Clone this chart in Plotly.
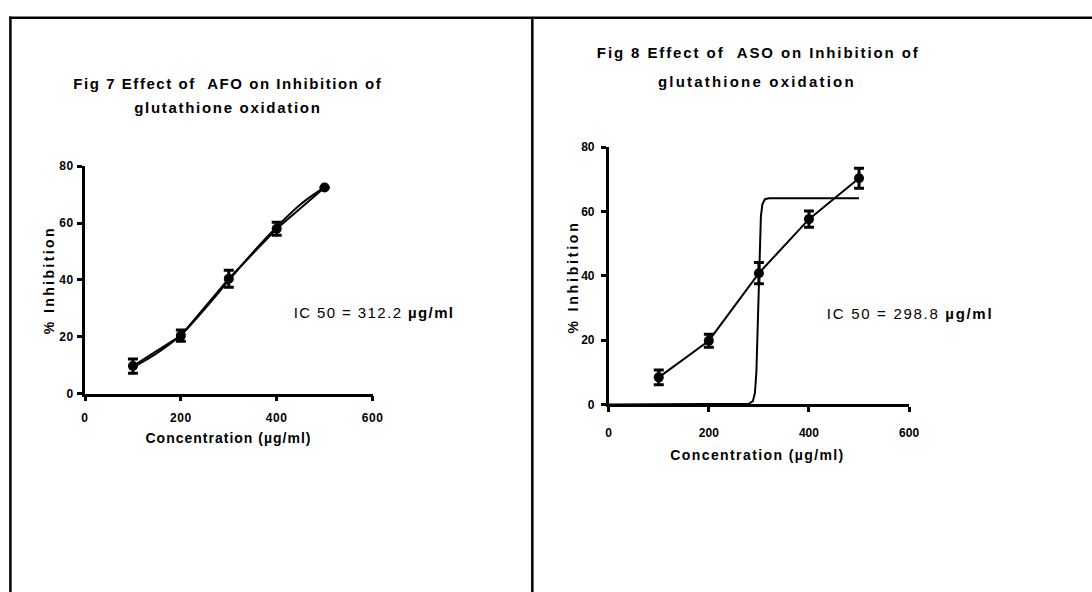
import plotly.graph_objects as go

# ---------------- data ----------------
conc = [100, 200, 300, 400, 500]

afo_mean = [9.7, 20.4, 40.4, 58.0, 72.5]
afo_err = [2.5, 2.0, 3.0, 2.3, 0.0]
afo_fit_x = [100, 150, 200, 250, 300, 350, 400, 450, 500]
afo_fit_y = [9.2, 14.2, 20.6, 29.8, 39.8, 49.6, 58.6, 66.6, 72.6]

aso_mean = [8.4, 19.8, 40.8, 57.6, 70.3]
aso_err = [2.3, 2.0, 3.3, 2.5, 3.1]
aso_fit_x = [0, 100, 200, 280, 288, 292, 295, 297, 298.8, 300.5, 302, 304, 307, 312, 320, 400, 500]
aso_fit_y = [0.0, 0.0, 0.0, 0.2, 1.0, 3.5, 10.0, 20.0, 32.0, 44.0, 52.0, 58.5, 62.2, 63.8, 64.1, 64.1, 64.1]

x_ticks = [0, 200, 400, 600]
y_ticks = [0, 20, 40, 60, 80]

title_left_1 = "Fig 7 Effect of \u00a0AFO on Inhibition of"
title_right_1 = "Fig 8 Effect of \u00a0ASO on Inhibition of"
title_2 = "glutathione oxidation"
ic_left = "IC 50 = 312.2 <b>µg/ml</b>"
ic_right = "IC 50 = 298.8 <b>µg/ml</b>"
x_title = "Concentration (µg/ml)"
y_title = "% Inhibition"

# ---------------- figure ----------------
W, H = 1092, 592
FONT = "Liberation Sans, Arial, sans-serif"


def px(x):
    return x / W


def py(y):
    return 1 - y / H


fig = go.Figure()

# AFO (left)
fig.add_trace(go.Scatter(x=afo_fit_x, y=afo_fit_y, mode="lines", line=dict(color="black", width=2, shape="spline"),
                         xaxis="x", yaxis="y", showlegend=False, hoverinfo="skip"))
fig.add_trace(go.Scatter(x=conc, y=afo_mean, mode="lines+markers",
                         line=dict(color="black", width=2),
                         marker=dict(color="black", size=10),
                         error_y=dict(type="data", array=afo_err, color="black", thickness=3, width=5),
                         xaxis="x", yaxis="y", showlegend=False))

# ASO (right)
fig.add_trace(go.Scatter(x=aso_fit_x, y=aso_fit_y, mode="lines", line=dict(color="black", width=2),
                         xaxis="x2", yaxis="y2", showlegend=False, hoverinfo="skip", cliponaxis=False))
fig.add_trace(go.Scatter(x=conc, y=aso_mean, mode="lines+markers",
                         line=dict(color="black", width=2),
                         marker=dict(color="black", size=10),
                         error_y=dict(type="data", array=aso_err, color="black", thickness=3, width=5),
                         xaxis="x2", yaxis="y2", showlegend=False))

tickfont = dict(family=FONT, size=12, color="black", weight="bold")
axis_common = dict(showline=True, linecolor="black", linewidth=2.5, ticks="outside", ticklen=5,
                   tickwidth=2.5, tickcolor="black", showgrid=False, zeroline=False, tickfont=tickfont)

fig.update_layout(
    width=W, height=H,
    margin=dict(l=0, r=0, t=0, b=0),
    paper_bgcolor="white", plot_bgcolor="white",
    xaxis=dict(domain=[px(83), px(374)], range=[0, 600], tickvals=x_ticks, anchor="y",
               ticklabelstandoff=6, **axis_common),
    yaxis=dict(domain=[py(396), py(163)], range=[0, 80], tickvals=y_ticks, anchor="x",
               ticklabelstandoff=1, **axis_common),
    xaxis2=dict(domain=[px(613), px(917)], range=[0, 600], tickvals=x_ticks, anchor="y2",
                ticklabelstandoff=10, **axis_common),
    yaxis2=dict(domain=[py(407), py(143.5)], range=[0, 80], tickvals=y_ticks, anchor="x2",
                ticklabelstandoff=4, **axis_common),
)

# frame lines (extended past the paper edges so they run to the window edges)
line_style = dict(color="black", width=2.5)
fig.add_shape(type="line", xref="paper", yref="paper", x0=px(6.3), x1=1.05, y0=py(11), y1=py(11), line=line_style)
fig.add_shape(type="line", xref="paper", yref="paper", x0=px(7.5), x1=px(7.5), y0=-0.05, y1=py(9.8), line=line_style)
fig.add_shape(type="line", xref="paper", yref="paper", x0=px(535.7), x1=px(535.7), y0=-0.05, y1=py(11), line=line_style)

title_font = dict(family=FONT, size=15, color="black", weight="bold")
ax_font = dict(family=FONT, size=14, color="black", weight="bold")
ic_font = dict(family=FONT, size=15, color="black")

# (text, x-center, y-center, font, angle, letter spacing)
ann = [
    (title_left_1, 228.5, 78, title_font, 0, 1.55),
    (title_2, 228, 102.6, title_font, 0, 1.7),
    (title_right_1, 764.7, 47, title_font, 0, 1.9),
    (title_2, 763.5, 76.6, title_font, 0, 2.2),
    (x_title, 228, 441, ax_font, 0, 1.0),
    (x_title, 764, 458.5, ax_font, 0, 1.4),
    (y_title, 47, 280, ax_font, -90, 2.4),
    (y_title, 577, 277, ax_font, -90, 2.8),
    (ic_left, 375, 313, ic_font, 0, 1.4),
    (ic_right, 918, 314, ic_font, 0, 1.7),
]
spacings = []
for text, x, y, f, ang, sp in ann:
    fig.add_annotation(text=text, xref="paper", yref="paper", x=px(x), y=py(y), xanchor="center",
                       yanchor="middle", showarrow=False, font=f, textangle=ang)
    spacings.append(sp)

post = """
document.documentElement.style.overflow = 'hidden';
document.body.style.overflow = 'hidden';
document.body.style.margin = '0';
var gd = document.getElementById('{plot_id}');
var sp = %s;
function spacing(){
  gd.querySelectorAll('.annotation').forEach(function(a, i){
    var t = a.querySelector('.annotation-text');
    if (t && i < sp.length) { t.style.letterSpacing = sp[i] + 'px'; }
  });
  gd.querySelectorAll('.xtick text, .ytick text').forEach(function(t){ t.style.letterSpacing = '0.6px'; });
}
spacing();
gd.on('plotly_afterplot', spacing);
""" % str(spacings)

fig.write_html("out.html", post_script=post, config={"displayModeBar": False})
